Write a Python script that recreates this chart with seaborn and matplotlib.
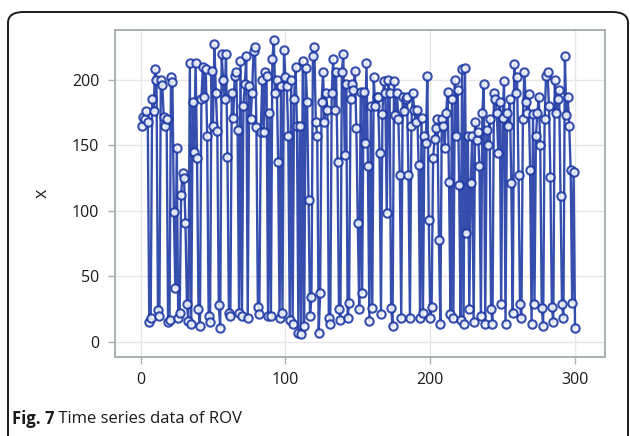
import numpy as np
import pandas as pd
import matplotlib
matplotlib.use("Agg")
import matplotlib.pyplot as plt
import seaborn as sns
from matplotlib.patches import FancyBboxPatch

# ---- data ----
t_values = list(range(1, 301))
x_values = [
    165, 172, 170, 176, 168, 15, 18, 185, 176, 208,
    200, 24, 20, 200, 196, 172, 165, 170, 15, 17,
    202, 198, 99, 41, 148, 18, 22, 112, 129, 125,
    91, 29, 16, 213, 14, 183, 145, 213, 140, 25,
    12, 185, 210, 187, 208, 157, 20, 15, 207, 165,
    227, 190, 161, 28, 11, 220, 200, 185, 220, 141,
    22, 20, 190, 171, 203, 206, 162, 22, 214, 20,
    180, 197, 218, 18, 195, 170, 190, 222, 225, 164,
    27, 21, 160, 200, 160, 206, 203, 20, 175, 20,
    216, 230, 190, 200, 137, 18, 195, 22, 223, 202,
    195, 157, 17, 200, 14, 185, 210, 165, 7, 165,
    6, 214, 12, 209, 183, 108, 20, 34, 218, 225,
    168, 157, 7, 37, 183, 206, 168, 190, 177, 18,
    14, 190, 216, 177, 206, 137, 25, 17, 206, 220,
    143, 197, 18, 30, 185, 197, 192, 207, 163, 91,
    25, 191, 37, 191, 152, 213, 134, 16, 180, 26,
    202, 180, 187, 187, 144, 21, 174, 199, 190, 98,
    200, 190, 26, 12, 199, 173, 190, 170, 127, 18,
    187, 176, 185, 187, 127, 18, 165, 190, 177, 168,
    177, 135, 18, 171, 22, 157, 152, 203, 93, 18,
    27, 140, 155, 163, 170, 78, 14, 170, 165, 148,
    175, 191, 122, 21, 185, 18, 200, 157, 192, 120,
    17, 208, 14, 209, 83, 157, 25, 121, 157, 15,
    168, 154, 160, 134, 20, 175, 197, 14, 162, 150,
    170, 25, 14, 190, 185, 175, 144, 183, 29, 171,
    199, 14, 175, 165, 185, 121, 22, 212, 190, 202,
    127, 29, 18, 170, 206, 183, 175, 189, 131, 14,
    174, 29, 157, 175, 187, 150, 26, 12, 170, 203,
    206, 180, 126, 27, 15, 200, 175, 185, 192, 111,
    29, 18, 218, 173, 187, 165, 131, 30, 130, 11,
]
x_ticks = [0, 100, 200, 300]
y_ticks = [0, 50, 100, 150, 200]
y_label = "x"
caption_bold = "Fig. 7"
caption_text = " Time series data of ROV"

df = pd.DataFrame({"t": t_values, "x": x_values})

sns.set_theme(style="white")
plt.rcParams["font.family"] = ["Open Sans", "DejaVu Sans"]

W, H = 630, 436
fig = plt.figure(figsize=(W / 100, H / 100), dpi=100)

# outer rounded frame
box = FancyBboxPatch((8 / W, -12 / H), (628 - 8) / W, (436 - 12 + 12) / H,
                     boxstyle="round,pad=0,rounding_size=0.025",
                     transform=fig.transFigure, fill=False,
                     edgecolor="#1a1a1a", linewidth=1.4, clip_on=False)
fig.patches.append(box)

ax = fig.add_axes([114.5 / W, 1 - 357 / H, (605 - 114.5) / W, (357 - 30) / H])

line_color = "#1a36a3"
sns.lineplot(data=df, x="t", y="x", ax=ax, color=line_color, linewidth=1.7,
             alpha=0.88, marker="o", markersize=6, markerfacecolor="#f4f6fc",
             markeredgecolor=line_color, markeredgewidth=1.5, estimator=None,
             sort=False)

ax.set_xlim(-18, 320.7)
ax.set_ylim(-11.5, 238)
ax.set_xticks(x_ticks)
ax.set_yticks(y_ticks)
ax.set_xlabel("")
ax.set_ylabel(y_label, fontsize=13, labelpad=15)
ax.grid(True, color="#e6e6e6", linewidth=1.0)
ax.set_axisbelow(True)
for s in ax.spines.values():
    s.set_color("#a9b0b0")
    s.set_linewidth(1.4)
ax.tick_params(axis="both", which="both", length=5, width=1, color="#a9b0b0",
               labelsize=11.5, labelcolor="#1a1a1a", pad=6, direction="out",
               bottom=True, left=True)

fig.text(12 / W, 1 - 419 / H, caption_bold, fontsize=12, fontweight="bold",
         va="center", ha="left", color="#1a1a1a")
fig.canvas.draw()
bt = fig.texts[-1].get_window_extent()
fig.text(bt.x1 / W, 1 - 419 / H, caption_text, fontsize=12, va="center",
         ha="left", color="#1a1a1a")

fig.savefig("out.png", dpi=100)
